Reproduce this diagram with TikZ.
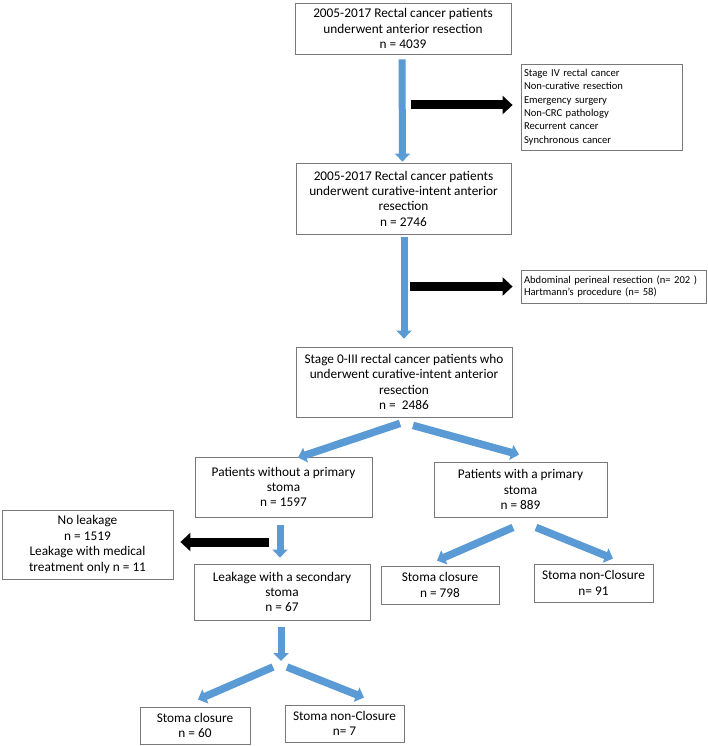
\documentclass[tikz,border=0pt]{standalone}
\usepackage{fontspec}
\setmainfont{Carlito}
\usetikzlibrary{arrows.meta,calc}
\definecolor{arrblue}{RGB}{91,155,213}
\definecolor{boxgray}{RGB}{120,120,120}
\begin{document}
\begin{tikzpicture}[x=1pt,y=-1pt,
  box/.style={draw=boxgray, line width=0.8pt, align=center, inner sep=1pt,
    font=\fontsize{13.3}{15.3}\selectfont},
  smallbox/.style={draw=boxgray, line width=0.8pt, align=left, inner sep=1pt,
    font=\fontsize{10.6}{13.4}\selectfont},
  vbarrow/.style={draw=arrblue, line width=7pt, -{Triangle[width=15pt,length=8pt]}},
  dbarrow/.style={draw=arrblue, line width=7.5pt, -{Triangle[width=15pt,length=8pt]}},
  karrow/.style={draw=black, line width=9pt, -{Triangle[width=18pt,length=10pt]}}]
\useasboundingbox (0,0) rectangle (708,746);
\fill[white] (0,0) rectangle (708,746);

\node[box, minimum width=216pt, minimum height=51pt] (b1) at (403,28.5)
  {2005-2017 Rectal cancer patients\\underwent anterior resection\\n = 4039};
\node[smallbox, minimum width=161pt, minimum height=86pt, text width=155pt] (ex1) at (601.5,107)
  {Stage IV rectal cancer\\Non-curative resection\\Emergency surgery\\Non-CRC pathology\\Recurrent cancer\\Synchronous cancer};
\node[box, minimum width=215pt, minimum height=71pt] (b2) at (403.5,198.5)
  {2005-2017 Rectal cancer patients\\underwent curative-intent anterior\\resection\\n = 2746};
\node[smallbox, minimum width=185pt, minimum height=33pt, text width=179pt,
  font=\fontsize{10.6}{12.5}\selectfont] (ex2) at (613.5,286.5)
  {Abdominal perineal resection (n= 202 )\\Hartmann’s procedure (n= 58)};
\node[box, minimum width=216pt, minimum height=70pt] (b3) at (404,382)
  {Stage 0-III rectal cancer patients who\\underwent curative-intent anterior\\resection\\n = \ 2486};
\node[box, minimum width=177pt, minimum height=60pt] (nos) at (283.5,487)
  {Patients without a primary\\stoma\\n = 1597};
\node[box, minimum width=173pt, minimum height=55pt] (ws) at (520.5,489.5)
  {Patients with a primary\\stoma\\n = 889};
\node[box, minimum width=171pt, minimum height=69pt, font=\fontsize{13.3}{15.7}\selectfont] (nol) at (87.5,544.5)
  {No leakage\\n = 1519\\Leakage with medical\\treatment only n = 11};
\node[box, minimum width=176pt, minimum height=56pt] (sec) at (282,592)
  {Leakage with a secondary\\stoma\\n = 67};
\node[box, minimum width=118pt, minimum height=38pt] (sc1) at (440,585)
  {Stoma closure\\n = 798};
\node[box, minimum width=119pt, minimum height=38pt] (snc1) at (593.5,583)
  {Stoma non-Closure\\n= 91};
\node[box, minimum width=110pt, minimum height=37pt] (sc2) at (195,725.5)
  {Stoma closure\\n = 60};
\node[box, minimum width=119pt, minimum height=37pt] (snc2) at (344.5,723.5)
  {Stoma non-Closure\\n= 7};

\coordinate (split) at (281,661);

% vertical blue arrows
\draw[vbarrow] ([xshift=-1pt,yshift=-5pt]b1.south) -- ([xshift=-1pt,yshift=1pt]b2.north);
\draw[vbarrow] ([xshift=0.5pt,yshift=-3pt]b2.south) -- ([yshift=8pt]b3.north);
\draw[vbarrow] ([xshift=-3.5pt,yshift=-8pt]nos.south) -- ([xshift=-2pt,yshift=6pt]sec.north);
\draw[vbarrow] ([xshift=-1pt,yshift=-7pt]sec.south) -- (split);

% black arrows
\draw[karrow] ([xshift=7pt,yshift=2pt]b2.north |- ex1.west) -- ([xshift=-8pt,yshift=2pt]ex1.west);
\draw[karrow] ([xshift=6pt]b2.south |- ex2.west) -- ([xshift=-8pt]ex2.west);
\draw[karrow] ([xshift=-14.5pt,yshift=2.5pt]nos.south |- nol.east) -- ([xshift=7pt,yshift=2.5pt]nol.east);

% diagonal blue arrows
\draw[dbarrow] ([xshift=-4pt,yshift=-6pt]b3.south) -- ([xshift=14.5pt,yshift=-1pt]nos.north);
\draw[dbarrow] ([xshift=9pt,yshift=-8pt]b3.south) -- ([xshift=-1.5pt,yshift=7pt]ws.north);
\draw[dbarrow] ([xshift=-7.5pt,yshift=-10pt]ws.south) -- ([xshift=-3pt,yshift=5pt]sc1.north);
\draw[dbarrow] ([xshift=15.5pt,yshift=-10pt]ws.south) -- ([xshift=19.5pt,yshift=5pt]snc1.north);
\draw[dbarrow] ([xshift=-8pt,yshift=-6pt]split) -- ([xshift=3pt,yshift=7pt]sc2.north);
\draw[dbarrow] ([xshift=6pt,yshift=-6pt]split) -- ([xshift=19.5pt,yshift=7pt]snc2.north);
\end{tikzpicture}
\end{document}
